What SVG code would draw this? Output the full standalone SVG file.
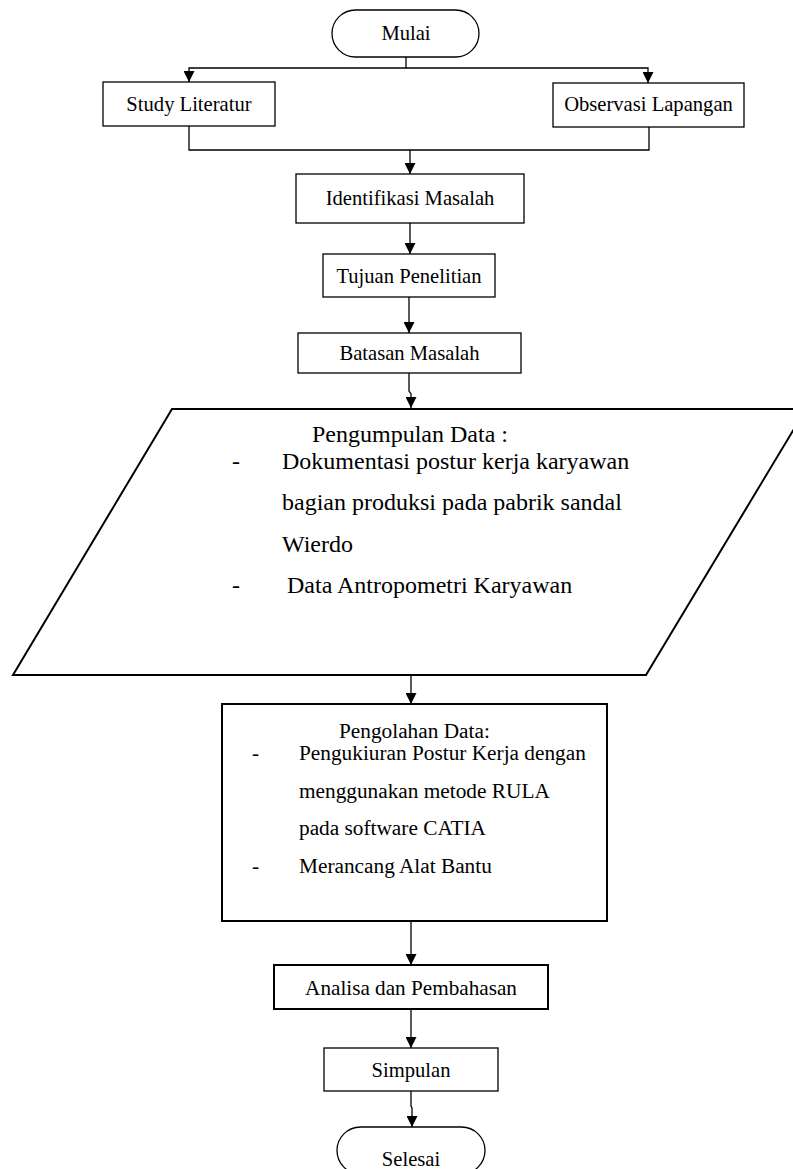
<svg xmlns="http://www.w3.org/2000/svg" width="793" height="1169" viewBox="0 0 793 1169">
<style>
.box{fill:#fff;stroke:#000;stroke-width:1.3}
.thick{fill:#fff;stroke:#000;stroke-width:2}
.lbl{font-family:"Liberation Serif","Times New Roman",serif;font-size:20.6px;fill:#000;text-anchor:middle}
.txt{font-family:"Liberation Serif","Times New Roman",serif;fill:#000}
.con{fill:none;stroke:#000;stroke-width:1.3}
</style>
<defs>
<marker id="arr" markerUnits="userSpaceOnUse" markerWidth="11" markerHeight="11" refX="11" refY="5.5" orient="auto" viewBox="0 0 11 11">
<path d="M0,0 L11,5.5 L0,11 z" fill="#000"/>
</marker>
</defs>
<rect width="793" height="1169" fill="#fff"/>
<g id="connectors">
<path class="con" d="M406,57 V68 H189 V82" marker-end="url(#arr)"/>
<path class="con" d="M406,68 H648 V83" marker-end="url(#arr)"/>
<path class="con" d="M189,126 V150 H649 V127"/>
<path class="con" d="M410,150 V174" marker-end="url(#arr)"/>
<path class="con" d="M410,223 V254" marker-end="url(#arr)"/>
<path class="con" d="M409,297 V333" marker-end="url(#arr)"/>
<path class="con" d="M409,373 V391 L411,394 V408" marker-end="url(#arr)"/>
<path class="con" d="M411,675 V704" marker-end="url(#arr)"/>
<path class="con" d="M411,921 V965" marker-end="url(#arr)"/>
<path class="con" d="M411,1009 V1048" marker-end="url(#arr)"/>
<path class="con" d="M411,1091 V1106 L412,1108 V1127" marker-end="url(#arr)"/>
</g>
<g id="mulai">
<rect class="box" x="332" y="10" width="147" height="47" rx="23.5" ry="23.5"/>
<text class="lbl" x="406" y="40">Mulai</text>
</g>
<g id="study">
<rect class="box" x="103" y="82" width="172" height="44"/>
<text class="lbl" x="189" y="111">Study Literatur</text>
</g>
<g id="observasi">
<rect class="box" x="553" y="83" width="191" height="44"/>
<text class="lbl" x="648.5" y="111">Observasi Lapangan</text>
</g>
<g id="identifikasi">
<rect class="box" x="296" y="174" width="228" height="49"/>
<text class="lbl" x="410" y="205">Identifikasi Masalah</text>
</g>
<g id="tujuan">
<rect class="box" x="323" y="254" width="172" height="43"/>
<text class="lbl" x="409" y="283">Tujuan Penelitian</text>
</g>
<g id="batasan">
<rect class="box" x="298" y="333" width="223" height="40"/>
<text class="lbl" x="409.5" y="360">Batasan Masalah</text>
</g>
<g id="pengumpulan">
<polygon class="thick" points="172,409 806,409 646,675 13,675"/>
<text class="txt" font-size="24" x="312" y="442">Pengumpulan Data :</text>
<text class="txt" font-size="24" x="232" y="469">-</text>
<text class="txt" font-size="24" x="282" y="469">Dokumentasi postur kerja karyawan</text>
<text class="txt" font-size="24" x="282" y="510">bagian produksi pada pabrik sandal</text>
<text class="txt" font-size="24" x="282" y="552">Wierdo</text>
<text class="txt" font-size="24" x="232" y="593">-</text>
<text class="txt" font-size="24" x="287" y="593">Data Antropometri Karyawan</text>
</g>
<g id="pengolahan">
<rect class="thick" x="222" y="704" width="385" height="217"/>
<text class="txt" font-size="21.3" x="339" y="738">Pengolahan Data:</text>
<text class="txt" font-size="21.3" x="252" y="760">-</text>
<text class="txt" font-size="21.3" x="299" y="760">Pengukiuran Postur Kerja dengan</text>
<text class="txt" font-size="21.3" x="299" y="798">menggunakan metode RULA</text>
<text class="txt" font-size="21.3" x="299" y="835">pada software CATIA</text>
<text class="txt" font-size="21.3" x="252" y="873">-</text>
<text class="txt" font-size="21.3" x="299" y="873">Merancang Alat Bantu</text>
</g>
<g id="analisa">
<rect class="thick" x="274" y="965" width="274" height="44"/>
<text class="lbl" font-size="21.2" style="font-size:21.2px" x="411" y="995">Analisa dan Pembahasan</text>
</g>
<g id="simpulan">
<rect class="box" x="324" y="1048" width="174" height="43"/>
<text class="lbl" x="411" y="1077">Simpulan</text>
</g>
<g id="selesai">
<rect class="box" x="337" y="1127" width="148" height="47" rx="23.5" ry="23.5"/>
<text class="lbl" x="411" y="1166">Selesai</text>
</g>
</svg>
